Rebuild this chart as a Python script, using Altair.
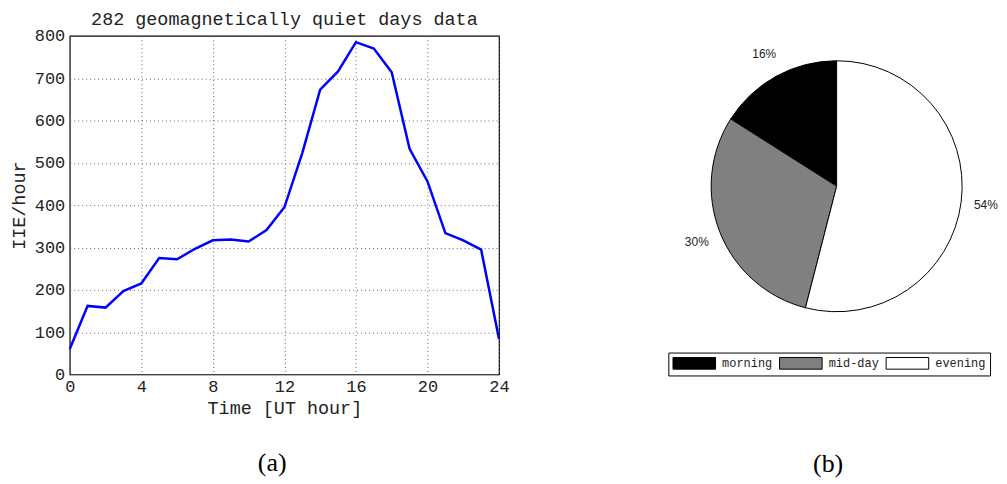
import altair as alt
import pandas as pd

# ---- data ----
hours = list(range(25))
iie_per_hour = [60, 162, 158, 197, 215, 275, 272, 297, 317, 319, 314, 341, 395,
                523, 673, 716, 785, 770, 714, 533, 456, 334, 317, 295, 84]
x_ticks = [0, 4, 8, 12, 16, 20, 24]
y_ticks = [0, 100, 200, 300, 400, 500, 600, 700, 800]

periods = ["morning", "mid-day", "evening"]
shares = [16, 30, 54]
period_colors = ["#000000", "#808080", "#ffffff"]

MONO = "Liberation Mono"
TXT = "#222222"

line_df = pd.DataFrame({"hour": hours, "iie": iie_per_hour})
pie_df = pd.DataFrame({"period": periods, "share": shares, "idx": list(range(len(periods)))})
pie_df["label"] = [f"{s}%" for s in shares]

# ---- (a) line chart ----
line = alt.Chart(line_df).mark_line(color="#0000ff", strokeWidth=2.5).encode(
    x=alt.X("hour:Q", scale=alt.Scale(domain=[0, 24], nice=False),
            axis=alt.Axis(values=x_ticks, title="Time [UT hour]", grid=True,
                          gridDash=[1, 3], gridColor="#666666", gridWidth=1,
                          ticks=False, domain=False, labelFont=MONO, labelFontSize=17,
                          labelColor=TXT, labelPadding=4, labelFlush=False,
                          titleFont=MONO, titleFontSize=18.5, titleFontWeight="normal",
                          titleColor=TXT, titlePadding=4)),
    y=alt.Y("iie:Q", scale=alt.Scale(domain=[0, 800], nice=False),
            axis=alt.Axis(values=y_ticks, title="IIE/hour", grid=True,
                          gridDash=[1, 3], gridColor="#666666", gridWidth=1,
                          ticks=False, domain=False, labelFont=MONO, labelFontSize=17,
                          labelColor=TXT, labelPadding=5, labelFlush=False,
                          titleFont=MONO, titleFontSize=18.5, titleFontWeight="normal",
                          titleColor=TXT, titlePadding=6)),
)
left = line.properties(
    width=431, height=340,
    title=alt.TitleParams("282 geomagnetically quiet days data", font=MONO, fontSize=18.5,
                          fontWeight="normal", color=TXT, offset=-2, anchor="middle"),
    view=alt.ViewBackground(stroke="black", strokeWidth=1.2),
)

# ---- (b) pie chart ----
base = alt.Chart(pie_df).encode(
    theta=alt.Theta("share:Q", stack=True),
    order=alt.Order("idx:Q", sort="descending"),
)
arcs = base.mark_arc(outerRadius=126, stroke="black", strokeWidth=1).encode(
    color=alt.Color("period:N", scale=alt.Scale(domain=periods, range=period_colors),
                    legend=alt.Legend(title=None, orient="none", legendX=8, legendY=318,
                                      direction="horizontal", strokeColor="black",
                                      fillColor="white", padding=4,
                                      symbolType="M-1,-1H6.33V1H-1Z", symbolSize=136,
                                      symbolStrokeColor="black", symbolStrokeWidth=1,
                                      symbolOpacity=1, labelFont=MONO, labelFontSize=12,
                                      labelColor=TXT, labelOffset=37, columnPadding=4)),
    x=alt.value(177), y=alt.value(151),
)
labels = base.mark_text(radius=151, font="Liberation Sans", fontSize=12, color=TXT).encode(
    text="label:N", x=alt.value(177), y=alt.value(151),
)
right = alt.layer(arcs, labels).properties(
    width=320, height=340, view=alt.ViewBackground(stroke="transparent"),
)

cap_font = dict(orient="bottom", font="Liberation Serif", fontSize=26,
                fontWeight="normal", color="black", anchor="middle")
left_c = alt.hconcat(left).properties(title=alt.TitleParams("(a)", offset=33, dx=13, **cap_font))
right_c = alt.hconcat(right).resolve_legend(color="independent").properties(
    title=alt.TitleParams("(b)", offset=75, dx=-1, **cap_font))

chart = alt.hconcat(left_c, right_c, spacing=150).resolve_legend(
    color="independent").properties(padding=0)

chart.save("out.html", embed_options={"renderer": "svg", "actions": False})
